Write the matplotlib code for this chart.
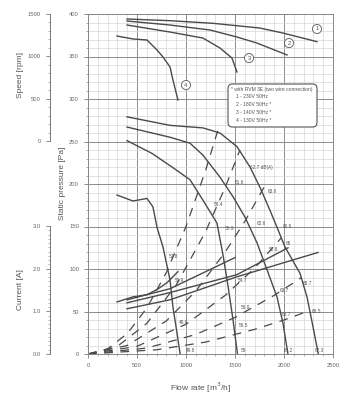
import matplotlib.pyplot as plt
from matplotlib.patches import FancyBboxPatch

plt.rcParams['font.family'] = ['Liberation Sans', 'DejaVu Sans']

# speed curves [rpm] vs flow [m3/h]
speed_1_q = [398, 837, 1276, 1755, 1990, 2337]
speed_1 = [1441, 1421, 1390, 1334, 1275, 1173]
speed_2_q = [398, 837, 1245, 1520, 1724, 2031]
speed_2 = [1417, 1370, 1311, 1228, 1157, 1016]
speed_3_q = [398, 837, 1173, 1347, 1469, 1520]
speed_3 = [1370, 1287, 1216, 1098, 980, 815]
speed_4_q = [296, 459, 602, 704, 765, 837, 867, 918]
speed_4 = [1240, 1205, 1193, 1075, 992, 874, 720, 484]

# static pressure curves [Pa]
pres_1_q = [398, 837, 1173, 1347, 1520, 1653, 1755, 1857, 1929, 2010, 2163, 2235, 2296, 2350]
pres_1 = [279, 269, 266, 260, 244, 220, 196, 169, 149, 126, 95, 67, 32, 0]
pres_2_q = [398, 837, 1041, 1173, 1347, 1480, 1602, 1724, 1827, 1929, 1990, 2040]
pres_2 = [267, 255, 248, 234, 208, 185, 161, 131, 99, 67, 36, 0]
pres_3_q = [398, 653, 857, 1041, 1173, 1316, 1380, 1430, 1480, 1525]
pres_3 = [251, 236, 220, 205, 181, 154, 115, 79, 40, 0]
pres_4_q = [296, 459, 602, 663, 704, 765, 837, 867, 908, 940]
pres_4 = [187, 180, 183, 173, 149, 126, 87, 55, 25, 0]

# current curves [A]
cur_1_q = [398, 837, 1520, 2347]
cur_1 = [1.06, 1.27, 1.81, 2.38]
cur_2_q = [398, 837, 1520, 2041]
cur_2 = [1.20, 1.44, 1.86, 2.49]
cur_3_q = [398, 837, 1500]
cur_3 = [1.27, 1.53, 2.26]
cur_4_q = [296, 459, 602, 704, 806, 918]
cur_4 = [1.22, 1.34, 1.39, 1.51, 1.67, 1.93]

# system curves (dashed), flow / pressure points
sys_a_q = [0, 200, 400, 600, 800, 1000, 1200, 1330]
sys_a = [0, 6, 24, 54, 96, 150, 216, 265]
sys_b_q = [0, 300, 600, 900, 1200, 1400, 1550]
sys_b = [0, 9, 36, 81, 144, 196, 240]
sys_c_q = [0, 400, 800, 1100, 1400, 1600, 1800]
sys_c = [0, 10, 39, 74, 120, 156, 197]
sys_d_q = [0, 500, 1000, 1400, 1700, 1975]
sys_d = [0, 9, 35, 69, 101, 137]
sys_e_q = [0, 600, 1100, 1500, 1900, 2180]
sys_e = [0, 7, 23, 43, 69, 90]
sys_f_q = [0, 700, 1200, 1700, 2000, 2260]
sys_f = [0, 5, 14, 29, 40, 51]

# noise labels: text, flow, pressure
noise_txt = ['62.7 dB(A)', '61.6', '63.6', '58.4', '62.6', '60.9', '58.9', '65',
             '52.8', '52.8', '50.9', '54.7', '63.7', '68.7', '56.9', '63.7',
             '68.5', '49.9', '56.5', '49.8', '59', '64.2', '67.3']
noise_q = [1650, 1500, 1830, 1280, 1720, 1990, 1400, 2020,
           1840, 820, 890, 1530, 1960, 2190, 1560, 1980,
           2280, 930, 1540, 1000, 1560, 2000, 2310]
noise_p = [220, 202, 191, 176, 154, 150, 148, 130,
           123, 115, 86, 87, 75, 83, 55, 46,
           50, 37, 34, 4, 4, 4, 4]

curve_ids = ['1', '2', '3', '4']
id_q = [2337, 2051, 1643, 1000]
id_speed = [1323, 1157, 980, 661]

legend_lines = ['* with RVM 3E (two wire connection)', '1 - 230V 50Hz',
                '2 - 180V 50Hz *', '3 - 140V 50Hz *', '4 - 130V 50Hz *']

line_c = '#4a4a4a'
text_c = '#555555'

fig = plt.figure(figsize=(3.53, 4.0), dpi=100)
x0, x1 = 88 / 353, 333 / 353
ax = fig.add_axes([x0, 1 - 354 / 400, x1 - x0, 340 / 400])
ax_s = fig.add_axes([x0, 1 - 141 / 400, x1 - x0, 127 / 400])
ax_c = fig.add_axes([x0, 1 - 354 / 400, x1 - x0, 128 / 400])

# main pressure axes with grid
ax.set_xlim(0, 2500)
ax.set_ylim(0, 400)
ax.set_xticks(range(0, 2501, 500))
ax.set_xticks(range(0, 2501, 100), minor=True)
ax.set_yticks(range(0, 401, 50))
ax.set_yticks(range(0, 401, 10), minor=True)
ax.grid(which='major', color='#8c8c8c', lw=0.7)
ax.grid(which='minor', color='#d6d6d6', lw=0.5)
ax.tick_params(which='both', labelsize=4.2, labelcolor='#666666', color='#777777')
ax.tick_params(which='major', length=3, width=0.6)
ax.tick_params(which='minor', length=1.5, width=0.4)
for sp in ax.spines.values():
    sp.set_color('#888888')
    sp.set_linewidth(0.7)
ax.set_axisbelow(True)

for q, p in [(pres_1_q, pres_1), (pres_2_q, pres_2), (pres_3_q, pres_3), (pres_4_q, pres_4)]:
    ax.plot(q, p, color=line_c, lw=1.0)
for q, p in [(sys_a_q, sys_a), (sys_b_q, sys_b), (sys_c_q, sys_c),
             (sys_d_q, sys_d), (sys_e_q, sys_e), (sys_f_q, sys_f)]:
    ax.plot(q, p, color=line_c, lw=0.9, dashes=(7, 6))
for t, q, p in zip(noise_txt, noise_q, noise_p):
    ax.text(q, p, t, fontsize=3.4, color=text_c, va='center', ha='left')

# speed axes
for a, lo, hi, lab in [(ax_s, 0, 1500, 'Speed [rpm]'), (ax_c, 0, 3.0, 'Current [A]')]:
    a.patch.set_visible(False)
    a.set_xlim(0, 2500)
    a.set_ylim(lo, hi)
    a.set_xticks([])
    for k in ['top', 'right', 'bottom']:
        a.spines[k].set_visible(False)
    a.spines['left'].set_position(('outward', 27.4))
    a.spines['left'].set_color('#777777')
    a.spines['left'].set_linewidth(0.7)
    a.tick_params(which='both', labelsize=4.2, labelcolor='#666666', color='#777777')
    a.tick_params(which='major', length=3, width=0.6)
    a.tick_params(which='minor', length=1.5, width=0.4)

ax_s.set_yticks([0, 500, 1000, 1500])
ax_s.set_yticks(range(0, 1501, 100), minor=True)
ax_c.set_yticks([0, 1, 2, 3])
ax_c.set_yticklabels(['0.0', '1.0', '2.0', '3.0'])
ax_c.set_yticks([i / 10 for i in range(31)], minor=True)

for q, s in [(speed_1_q, speed_1), (speed_2_q, speed_2), (speed_3_q, speed_3), (speed_4_q, speed_4)]:
    ax_s.plot(q, s, color=line_c, lw=1.0)
for t, q, s in zip(curve_ids, id_q, id_speed):
    ax_s.text(q, s, t, fontsize=4.2, color=text_c, ha='center', va='center',
              bbox=dict(boxstyle='circle,pad=0.35', fc='white', ec='#555555', lw=0.6))

for q, c in [(cur_1_q, cur_1), (cur_2_q, cur_2), (cur_3_q, cur_3), (cur_4_q, cur_4)]:
    ax_c.plot(q, c, color=line_c, lw=1.0)

# legend box
box = FancyBboxPatch((228 / 353, 1 - 127 / 400), 89 / 353, 43 / 400,
                     boxstyle='round,pad=0,rounding_size=0.012',
                     transform=fig.transFigure, fc='white', ec='#555555', lw=0.8)
fig.patches.append(box)
for i, t in enumerate(legend_lines):
    fig.text((231 if i == 0 else 236) / 353, 1 - (89 + 7.8 * i) / 400, t,
             fontsize=3.6, color=text_c, va='center')

# axis labels
fig.text(20 / 353, 1 - 75 / 400, 'Speed [rpm]', rotation=90, fontsize=6,
         color=text_c, ha='center', va='center')
fig.text(62 / 353, 1 - 183 / 400, 'Static pressure [Pa]', rotation=90, fontsize=6,
         color=text_c, ha='center', va='center')
fig.text(20 / 353, 1 - 290 / 400, 'Current [A]', rotation=90, fontsize=6,
         color=text_c, ha='center', va='center')
fig.text(200 / 353, 1 - 388 / 400, 'Flow rate [m$^3$/h]', fontsize=6,
         color=text_c, ha='center', va='center')

fig.savefig('out.png', dpi=100)
